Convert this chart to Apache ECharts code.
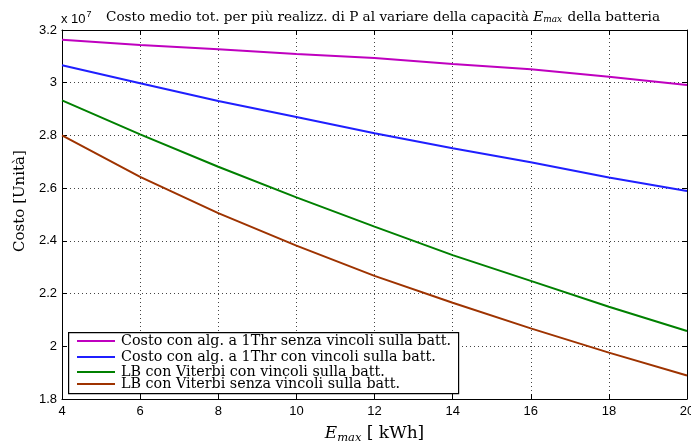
<!DOCTYPE html>
<html><head><meta charset="utf-8">
<script src="https://cdn.jsdelivr.net/npm/echarts@6/dist/echarts.min.js"></script>
<style>html,body{margin:0;padding:0;background:#fff}#c{width:691px;height:445px}</style>
</head><body><div id="c"></div>
<script>
const xValues = [4, 6, 8, 10, 12, 14, 16, 18, 20];
const costo1ThrSenza = [3.163, 3.143, 3.127, 3.109, 3.094, 3.071, 3.051, 3.023, 2.991];
const costo1ThrCon   = [3.066, 2.998, 2.931, 2.870, 2.808, 2.751, 2.698, 2.640, 2.589];
const lbViterbiCon   = [2.933, 2.804, 2.681, 2.565, 2.454, 2.346, 2.248, 2.150, 2.058];
const lbViterbiSenza = [2.800, 2.643, 2.505, 2.382, 2.267, 2.165, 2.068, 1.976, 1.889];
const seriesNames = [
  'Costo con alg. a 1Thr senza vincoli sulla batt.',
  'Costo con alg. a 1Thr con vincoli sulla batt.',
  'LB con Viterbi con vincoli sulla batt.',
  'LB con Viterbi senza vincoli sulla batt.'
];
const seriesData = [costo1ThrSenza, costo1ThrCon, lbViterbiCon, lbViterbiSenza];
const colors = ['#bf00bf', '#1f1fff', '#008000', '#9e3300'];
const legendTops = [334, 350, 365, 377];

const SERIF = 'DejaVu Serif';
const SANS = 'Liberation Sans';

const chart = echarts.init(document.getElementById('c'), null, {renderer: 'canvas'});
const gridLine = {show: true, lineStyle: {color: '#444', type: [1, 3], width: 1}};
const axisLine = {show: true, onZero: false, lineStyle: {color: '#000', width: 1}};
const tick = {show: true, inside: true, length: 5, lineStyle: {color: '#000'}};

chart.setOption({
  animation: false,
  color: colors,
  title: [{
    text: '{a|x 10}{s|7}',
    left: 56, top: 5,
    textStyle: {fontWeight: 'normal', rich: {
      a: {fontFamily: SANS, fontSize: 13, fontWeight: 'normal', color: '#000'},
      s: {fontFamily: SANS, fontSize: 9, fontWeight: 'normal', color: '#000', padding: [0, 0, 9, 1]}
    }}
  }, {
    text: '{n|Costo medio tot. per più realizz. di P al variare della capacità }{e|E}{s|max}{n| della batteria}',
    left: 101, top: 5,
    textStyle: {fontWeight: 'normal', rich: {
      n: {fontFamily: SERIF, fontSize: 13.6, fontWeight: 'normal', color: '#000'},
      e: {fontFamily: SERIF, fontSize: 13.6, fontWeight: 'normal', fontStyle: 'italic', color: '#000'},
      s: {fontFamily: SERIF, fontSize: 9, fontWeight: 'normal', fontStyle: 'italic', color: '#000', padding: [5, 1, 0, 0]}
    }}
  }],
  grid: {left: 62, right: 4, top: 30, bottom: 46, containLabel: false, outerBoundsMode: 'none'},
  legend: seriesNames.map((n, i) => ({
    data: [n], orient: 'vertical', left: 77, top: legendTops[i],
    icon: 'rect', itemWidth: 38, itemHeight: 2, padding: 0,
    textStyle: {fontFamily: SERIF, fontSize: 14.3, color: '#000', padding: [0, 0, 0, 1]},
    selectedMode: false
  })),
  graphic: [{
    type: 'rect', left: 68, top: 332, z: 1,
    shape: {width: 390, height: 61},
    style: {fill: '#fff', stroke: '#000', lineWidth: 1.2}
  }],
  xAxis: [{
    type: 'value', min: 4, max: 20, interval: 2, position: 'bottom',
    axisLine, axisTick: tick, splitLine: gridLine,
    axisLabel: {fontFamily: SANS, fontSize: 13, color: '#000', margin: 6},
    name: '{e|E}{s|max}{n| [ kWh]}', nameLocation: 'middle', nameGap: 25,
    nameTextStyle: {rich: {
      e: {fontFamily: SERIF, fontSize: 17, fontStyle: 'italic', color: '#000'},
      s: {fontFamily: SERIF, fontSize: 11.5, fontStyle: 'italic', color: '#000', padding: [8, 0, 0, 0]},
      n: {fontFamily: SERIF, fontSize: 17, color: '#000'}
    }}
  }, {
    type: 'value', min: 4, max: 20, interval: 2, position: 'top',
    axisLine, axisTick: tick, splitLine: {show: false}, axisLabel: {show: false}
  }],
  yAxis: [{
    type: 'value', min: 1.8, max: 3.2, interval: 0.2, position: 'left',
    axisLine, axisTick: tick, splitLine: gridLine,
    axisLabel: {fontFamily: SANS, fontSize: 13, color: '#000', margin: 5,
      formatter: v => String(Math.round(v * 10) / 10)},
    name: 'Costo [Unità]', nameLocation: 'middle', nameGap: 33,
    nameTextStyle: {fontFamily: SERIF, fontSize: 15, color: '#000', padding: [0, 0, 0, 27]}
  }, {
    type: 'value', min: 1.8, max: 3.2, interval: 0.2, position: 'right',
    axisLine, axisTick: tick, splitLine: {show: false}, axisLabel: {show: false}
  }],
  series: seriesNames.map((n, i) => ({
    name: n, type: 'line', showSymbol: false, smooth: false,
    lineStyle: {width: 2, color: colors[i]}, itemStyle: {color: colors[i]},
    data: xValues.map((x, j) => [x, seriesData[i][j]])
  }))
});
</script></body></html>
